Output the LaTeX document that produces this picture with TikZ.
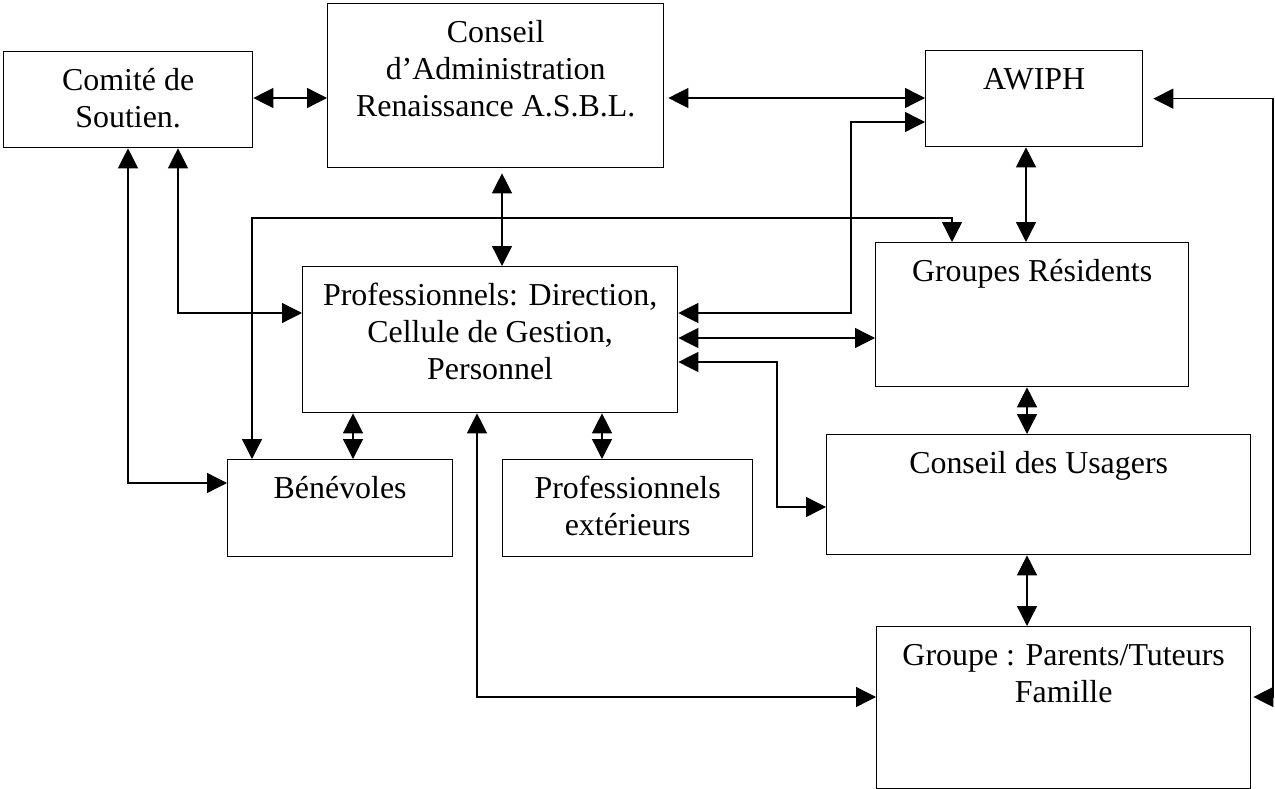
\documentclass[tikz,border=0pt]{standalone}
\usepackage{fontspec}
\setmainfont{Liberation Serif}
\usepackage{tikz}
\usetikzlibrary{arrows.meta}
\newlength{\pixel}
\setlength{\pixel}{0.376pt}
\newcommand{\cadre}[3]{\parbox[c][#2\pixel][t]{#1\pixel}{\centering\rule{0pt}{39\pixel}#3}}
\tikzstyle{boite} = [draw, line width=0.5pt, anchor=north west, inner sep=0pt]
\tikzstyle{lien} = [line width=0.5pt, {Triangle[length=7.5pt,width=7.5pt]}-{Triangle[length=7.5pt,width=7.5pt]}]

\begin{document}
\fontsize{12}{13.8}\selectfont
\begin{tikzpicture}[x=\pixel,y=-\pixel]
	\useasboundingbox (0,0) rectangle (1275,789);
	\node[boite](comite) at (3,51){\cadre{249}{96}{Comité de\\Soutien.}};
	\node[boite](ca) at (327,3){\cadre{336}{164}{Conseil\\d’Administration\\Renaissance A.S.B.L.}};
	\node[boite](awiph) at (925,50){\cadre{217}{96}{AWIPH}};
	\node[boite](gr) at (875,242){\cadre{313}{144}{Groupes Résidents}};
	\node[boite](pro) at (302,266){\cadre{375}{146}{Professionnels: Direction,\\Cellule de Gestion,\\Personnel}};
	\node[boite](cu) at (826,434){\cadre{424}{120}{Conseil des Usagers}};
	\node[boite](ben) at (227,459){\cadre{225}{97}{Bénévoles}};
	\node[boite](pe) at (502,459){\cadre{250}{97}{Professionnels\\extérieurs}};
	\node[boite](gp) at (876,626){\cadre{374}{162}{Groupe : Parents/Tuteurs\\Famille}};
	
	\draw[lien](comite.east |- 0,98) -- (ca.west |- 0,98);
	\draw[lien]([xshift=4\pixel]ca.east |- 0,98) -- (awiph.west |- 0,98);
	\draw[lien]([xshift=10\pixel]awiph.east) -| (1273,697) -- ([xshift=2\pixel]gp.east |- 0,697);
	\draw[lien](1026,0 |- awiph.south) -- (1026,0 |- gr.north);
	\draw[lien]([yshift=-5\pixel]502,0 |- ca.south) -- (502,0 |- pro.north);
	\draw[lien](178,0 |- comite.south) |- (pro.west |- 0,313);
	\draw[lien](128,0 |- comite.south) |- (ben.west |- 0,483);
	\draw[lien](252,0 |- ben.north) |- (952,218) -- (952,0 |- gr.north);
	\draw[lien](pro.east |- 0,313) -| (851,122) -- (awiph.west |- 0,122);
	\draw[lien](pro.east |- 0,338) -- (gr.west |- 0,338);
	\draw[lien](pro.east |- 0,362) -| (777,507) -- (cu.west |- 0,507);
	\draw[lien](353,0 |- pro.south) -- (353,0 |- ben.north);
	\draw[lien](602,0 |- pro.south) -- (602,0 |- pe.north);
	\draw[lien](477,0 |- pro.south) |- (gp.west |- 0,697);
	\draw[lien](1027,0 |- gr.south) -- (1027,0 |- cu.north);
	\draw[lien](1027,0 |- cu.south) -- (1027,0 |- gp.north);
\end{tikzpicture}
\end{document}
